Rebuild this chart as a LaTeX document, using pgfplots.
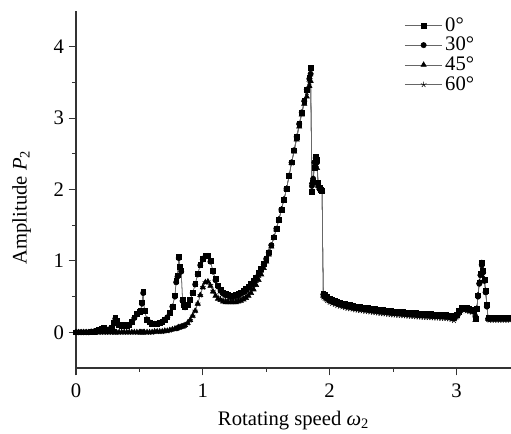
\documentclass[border=0pt]{standalone}
\usepackage{fontspec}
\setmainfont{Liberation Serif}
\usepackage{pgfplots}
\pgfplotsset{compat=1.18}
\usepackage{pgfplotstable}

\pgfplotstableread{
x a b c d
0.00 0.00 0.00 0.00 0.00
0.02 0.00 0.00 0.00 0.00
0.04 0.00 0.00 0.00 0.00
0.06 0.00 0.00 0.00 0.00
0.08 0.00 0.00 0.00 0.00
0.10 0.00 0.00 0.00 0.00
0.12 0.01 0.01 0.00 0.00
0.14 0.01 0.01 0.00 0.00
0.16 0.02 0.02 0.00 0.00
0.18 0.03 0.03 0.00 0.00
0.20 0.05 0.04 0.00 0.00
0.22 0.06 0.06 0.00 0.00
0.24 0.04 0.04 0.00 0.00
0.26 0.04 0.04 0.00 0.00
0.28 0.06 0.06 0.00 0.00
0.30 0.13 0.12 0.00 0.00
0.31 0.20 0.19 0.00 0.00
0.32 0.16 0.15 0.00 0.00
0.34 0.10 0.10 0.00 0.00
0.36 0.09 0.09 0.00 0.00
0.38 0.10 0.10 0.00 0.00
0.40 0.09 0.09 0.00 0.00
0.42 0.10 0.10 0.00 0.00
0.44 0.15 0.14 0.00 0.00
0.46 0.21 0.20 0.00 0.00
0.48 0.26 0.25 0.00 0.00
0.50 0.29 0.28 0.00 0.00
0.51 0.30 0.30 0.00 0.00
0.52 0.42 0.40 0.00 0.00
0.53 0.57 0.55 0.00 0.00
0.54 0.30 0.30 0.00 0.00
0.56 0.18 0.18 0.00 0.00
0.58 0.14 0.14 0.00 0.00
0.60 0.12 0.12 0.00 0.00
0.62 0.12 0.12 0.01 0.01
0.64 0.12 0.12 0.01 0.01
0.66 0.13 0.13 0.01 0.01
0.68 0.15 0.15 0.01 0.01
0.70 0.17 0.17 0.02 0.02
0.72 0.21 0.21 0.02 0.02
0.74 0.27 0.27 0.03 0.03
0.76 0.36 0.36 0.04 0.04
0.78 0.52 0.50 0.05 0.05
0.79 0.72 0.70 0.05 0.05
0.80 0.80 0.78 0.06 0.06
0.81 1.06 1.04 0.07 0.07
0.82 0.92 0.90 0.07 0.07
0.83 0.87 0.85 0.08 0.08
0.84 0.45 0.44 0.08 0.08
0.85 0.38 0.38 0.09 0.09
0.86 0.35 0.35 0.10 0.10
0.88 0.38 0.38 0.13 0.13
0.90 0.45 0.45 0.17 0.17
0.92 0.55 0.55 0.23 0.23
0.94 0.68 0.67 0.30 0.30
0.96 0.82 0.81 0.40 0.40
0.98 0.95 0.94 0.52 0.52
1.00 1.03 1.02 0.63 0.63
1.02 1.07 1.06 0.70 0.70
1.04 1.08 1.07 0.71 0.71
1.06 1.00 0.99 0.65 0.66
1.08 0.86 0.85 0.57 0.58
1.10 0.75 0.73 0.51 0.53
1.12 0.66 0.64 0.47 0.49
1.14 0.60 0.58 0.45 0.47
1.16 0.56 0.54 0.43 0.46
1.18 0.54 0.52 0.42 0.45
1.20 0.53 0.51 0.42 0.45
1.22 0.52 0.50 0.42 0.45
1.24 0.52 0.50 0.42 0.45
1.26 0.53 0.51 0.42 0.46
1.28 0.54 0.52 0.43 0.47
1.30 0.56 0.54 0.44 0.48
1.32 0.58 0.56 0.46 0.50
1.34 0.61 0.59 0.48 0.52
1.36 0.64 0.62 0.51 0.55
1.38 0.68 0.66 0.55 0.59
1.40 0.72 0.70 0.60 0.63
1.42 0.77 0.75 0.66 0.69
1.44 0.83 0.81 0.73 0.76
1.46 0.89 0.88 0.81 0.83
1.48 0.96 0.95 0.90 0.91
1.50 1.03 1.03 0.99 1.00
1.52 1.12 1.12 1.09 1.10
1.54 1.22 1.22 1.20 1.21
1.56 1.33 1.33 1.32 1.33
1.58 1.45 1.45 1.44 1.45
1.60 1.58 1.58 1.58 1.58
1.62 1.72 1.72 1.72 1.72
1.64 1.86 1.86 1.86 1.86
1.66 2.01 2.01 2.01 2.01
1.68 2.19 2.19 2.19 2.19
1.70 2.38 2.38 2.37 2.37
1.72 2.55 2.55 2.53 2.54
1.74 2.74 2.74 2.70 2.72
1.76 2.92 2.92 2.88 2.90
1.78 3.08 3.08 3.05 3.07
1.80 3.24 3.24 3.20 3.22
1.82 3.40 3.40 3.30 3.36
1.84 3.56 3.55 3.45 3.50
1.85 3.70 3.62 3.52 3.58
1.86 1.97 2.05 2.10 2.08
1.87 2.10 2.15 2.15 2.12
1.88 2.30 2.38 2.40 2.35
1.89 2.46 2.44 2.42 2.44
1.90 2.42 2.38 2.30 2.35
1.91 2.10 2.05 2.05 2.07
1.92 2.02 2.01 2.02 2.02
1.93 2.00 2.00 2.00 2.00
1.94 1.98 1.98 1.98 1.98
1.95 0.545 0.53 0.51 0.495
1.96 0.525 0.51 0.49 0.475
1.98 0.495 0.48 0.46 0.445
2.00 0.47 0.455 0.435 0.42
2.02 0.455 0.44 0.42 0.405
2.04 0.44 0.425 0.405 0.39
2.06 0.425 0.41 0.39 0.375
2.08 0.415 0.40 0.38 0.365
2.10 0.405 0.39 0.37 0.355
2.12 0.395 0.38 0.36 0.345
2.14 0.385 0.37 0.35 0.335
2.16 0.38 0.365 0.345 0.33
2.18 0.375 0.36 0.34 0.325
2.20 0.365 0.35 0.33 0.315
2.22 0.36 0.345 0.325 0.31
2.24 0.355 0.34 0.32 0.305
2.26 0.35 0.335 0.315 0.30
2.28 0.345 0.33 0.31 0.295
2.30 0.34 0.325 0.305 0.29
2.32 0.335 0.32 0.30 0.285
2.34 0.33 0.315 0.295 0.28
2.36 0.325 0.31 0.29 0.275
2.38 0.32 0.305 0.285 0.27
2.40 0.315 0.30 0.28 0.265
2.42 0.311 0.296 0.276 0.261
2.44 0.307 0.292 0.272 0.257
2.46 0.303 0.288 0.268 0.253
2.48 0.299 0.284 0.264 0.249
2.50 0.295 0.28 0.26 0.245
2.52 0.292 0.277 0.257 0.242
2.54 0.289 0.274 0.254 0.239
2.56 0.286 0.271 0.251 0.236
2.58 0.283 0.268 0.248 0.233
2.60 0.28 0.265 0.245 0.23
2.62 0.277 0.262 0.242 0.227
2.64 0.274 0.259 0.239 0.224
2.66 0.271 0.256 0.236 0.221
2.68 0.268 0.253 0.233 0.218
2.70 0.265 0.25 0.23 0.215
2.72 0.263 0.248 0.228 0.213
2.74 0.261 0.246 0.226 0.211
2.76 0.259 0.244 0.224 0.209
2.78 0.257 0.242 0.222 0.207
2.80 0.255 0.24 0.22 0.205
2.82 0.253 0.238 0.218 0.203
2.84 0.251 0.236 0.216 0.201
2.86 0.249 0.234 0.214 0.199
2.88 0.247 0.232 0.212 0.197
2.90 0.245 0.23 0.21 0.195
2.92 0.243 0.228 0.208 0.193
2.94 0.239 0.224 0.204 0.189
2.96 0.23 0.215 0.195 0.18
2.98 0.215 0.20 0.18 0.165
3.00 0.25 0.24 0.22 0.21
3.02 0.30 0.29 0.27 0.26
3.04 0.34 0.33 0.31 0.30
3.06 0.35 0.34 0.32 0.31
3.08 0.34 0.33 0.31 0.30
3.10 0.33 0.32 0.30 0.29
3.12 0.32 0.31 0.29 0.28
3.14 0.31 0.30 0.28 0.27
3.15 0.19 0.22 0.17 0.20
3.16 0.33 0.33 0.33 0.33
3.17 0.52 0.50 0.52 0.50
3.18 0.70 0.68 0.70 0.68
3.19 0.82 0.80 0.82 0.80
3.20 0.97 0.94 0.97 0.94
3.21 0.86 0.84 0.86 0.84
3.22 0.74 0.72 0.74 0.72
3.23 0.58 0.56 0.58 0.56
3.24 0.38 0.36 0.38 0.36
3.25 0.20 0.19 0.19 0.18
3.26 0.20 0.19 0.18 0.17
3.28 0.20 0.19 0.18 0.17
3.30 0.20 0.19 0.18 0.17
3.32 0.20 0.19 0.18 0.17
3.34 0.20 0.19 0.18 0.17
3.36 0.20 0.19 0.18 0.17
3.38 0.20 0.19 0.18 0.17
3.40 0.20 0.19 0.18 0.17
3.42 0.20 0.19 0.18 0.17
3.44 0.20 0.19 0.18 0.17
}\datatab

\begin{document}
\begin{tikzpicture}
\path[use as bounding box] (-57pt,-49.5pt) rectangle (326.25pt,276pt);
\begin{axis}[
  scale only axis, width=326.25pt, height=267.75pt,
  xmin=0, xmax=3.43, ymin=-0.5, ymax=4.5,
  axis lines*=left,
  axis line style={line width=0.8pt, black!80},
  tick align=outside,
  xtick={0,1,2,3}, ytick={0,1,2,3,4},
  minor x tick num=1, minor y tick num=1,
  major tick length=5.5pt, minor tick length=3pt,
  tick style={line width=0.8pt, black!80},
  /pgf/number format/assume math mode=true,
  tick label style={font=\fontsize{15.5}{18}\selectfont},
  x tick label style={yshift=-3pt},
  label style={font=\fontsize{15.5}{18}\selectfont},
  xlabel={Rotating speed \textit{ω}\textsubscript{2}},
  ylabel={Amplitude \textit{P}\textsubscript{2}},
  xlabel style={at={(axis cs:1.715,-0.5)}, anchor=north, yshift=-28.5pt},
  ylabel style={at={(axis description cs:-0.125,0.45)}, anchor=center},
  legend style={at={(axis description cs:0.755,0.99)}, anchor=north west,
    draw=none, fill=none, font=\fontsize{15.5}{16}\selectfont,
    row sep=-1pt, inner sep=0pt},
  legend cell align=left,
  legend image code/.code={\draw[mark repeat=2,mark phase=2,#1] plot coordinates {(0pt,0pt)(14pt,0pt)(28pt,0pt)};},
  every axis plot/.append style={black!60, line width=0.4pt},
]
\addplot[mark=square*, mark size=1.8pt, mark options={fill=black,draw=black}] table[x=x,y=a]{\datatab};
\addplot[mark=*, mark size=2.0pt, mark options={fill=black,draw=black}] table[x=x,y=b]{\datatab};
\addplot[mark=triangle*, mark size=2.3pt, mark options={fill=black,draw=black}] table[x=x,y=c]{\datatab};
\addplot[mark=star, mark size=2.2pt, mark options={fill=black,draw=black}] table[x=x,y=d]{\datatab};
\legend{0°,30°,45°,60°}
\end{axis}
\end{tikzpicture}
\end{document}
